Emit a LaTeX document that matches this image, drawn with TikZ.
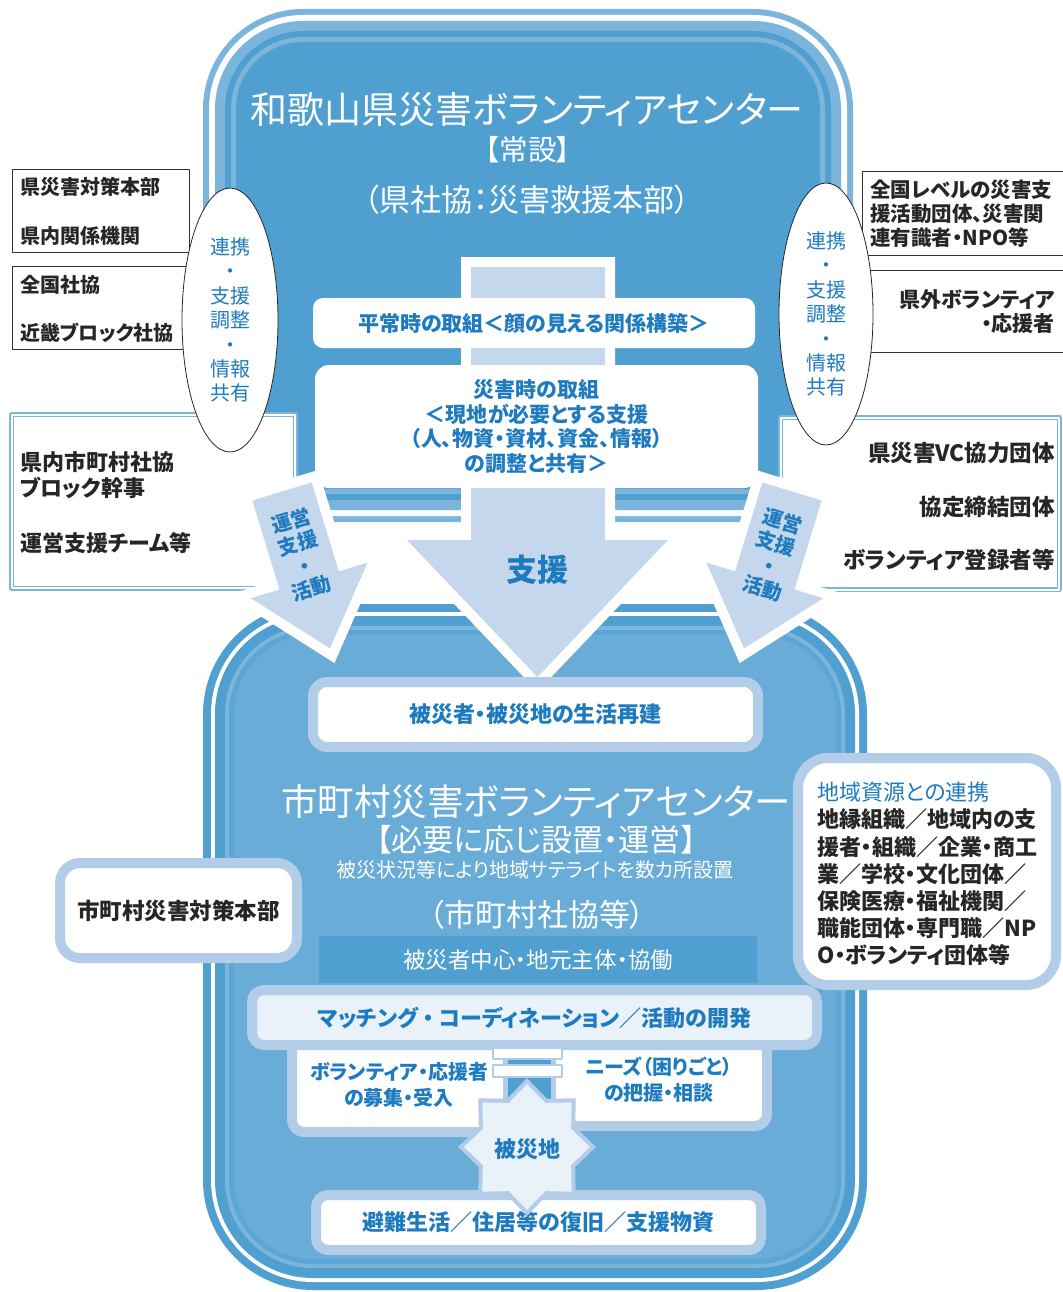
\documentclass[tikz,border=0pt]{standalone}
\usepackage{fontspec}
\setmainfont{Noto Sans CJK JP}[RawFeature={+palt}]
\usetikzlibrary{shapes.geometric}

\definecolor{tblue}{HTML}{1F7BC0}
\definecolor{bandmid}{HTML}{4FA0D1}
\definecolor{bandlt}{HTML}{7BB5DC}
\definecolor{fillbot}{HTML}{68ACD7}
\definecolor{midfill}{HTML}{5CA6D6}
\definecolor{arrowpale}{HTML}{C4D7EC}
\definecolor{paleedge}{HTML}{B3CDE8}
\definecolor{palefill}{HTML}{E9F1F9}

\tikzset{
  linebox/.style={draw=black!80, line width=1, fill=white, inner sep=0},
  dblbox/.style={draw=bandlt, double=white, double distance=2, line width=1.5, fill=white, inner sep=0},
  palebox/.style={draw=paleedge, line width=10, fill=white, rounded corners=12, inner sep=0},
  wayarrow/.style={fill=arrowpale, preaction={draw=white, line width=20, line join=miter}},
  blk/.style={text=black!85, inner sep=0, font=\bfseries\fontsize{20}{24}\selectfont},
  blu/.style={text=tblue, inner sep=0, font=\bfseries\fontsize{21}{24.5}\selectfont},
  arrlbl/.style={text=tblue, inner sep=0, align=center, font=\bfseries\fontsize{20}{23.5}\selectfont},
  ttl/.style={text=white, inner sep=0}
}

\begin{document}
\begin{tikzpicture}[line cap=round,line join=round,x=1pt,y=-1pt]
  \useasboundingbox (0,0) rectangle (1062,1292);
  % prefecture centre frame
  \foreach \ins/\col in {0/bandlt,6/white,12/bandlt,22/bandmid,28/bandlt,33/bandmid}
    \fill[\col, rounded corners={(100-\ins)*1pt}] (203+\ins,9+\ins) rectangle (853-\ins,522-\ins);
  % municipal centre frame
  \foreach \ins/\col in {0/bandmid,8/white,12/bandmid,22/bandlt,26/midfill,31/fillbot}
    \fill[\col, rounded corners={(110-\ins)*1pt}] (203+\ins,604+\ins) rectangle (867-\ins,1290-\ins);

  \node[ttl, font=\fontsize{37}{40}\selectfont] (prefvc) at (527,110) {和歌山県災害ボランティアセンター};
  \node[ttl, font=\fontsize{28.5}{30}\selectfont] (prefvcsub) at (528,150) {【常設】};
  \node[ttl, font=\fontsize{31}{33}\selectfont] (prefsw) at (527,200) {（県社協：災害救援本部）};

  % big support arrow
  \path[wayarrow] (471,267) -- (605,267) -- (605,540) -- (668,540) -- (537.5,677) -- (407,540) -- (471,540) -- cycle;
  \node[text=tblue, font=\bfseries\fontsize{31}{31}\selectfont] (supportlbl) at (537,570) {支援};

  \node[fill=white, rounded corners=10, minimum width=442, minimum height=50, blu] (normal) at (534,323) {平常時の取組＜顔の見える関係構築＞};
  \node[fill=white, rounded corners=14, minimum width=443, minimum height=123, blu, align=center] (disaster) at (536.5,426.5)
    {災害時の取組\\＜現地が必要とする支援\\（人、物資・資材、資金、情報）\\の調整と共有＞};

  % left partners
  \node[linebox, minimum width=177, minimum height=82] (prefhq) at (100.5,211) {};
  \node[blk, anchor=west] (prefhqtxt) at (20,187) {県災害対策本部};
  \node[blk, anchor=west] (prefagency) at (20,236) {県内関係機関};
  \node[linebox, minimum width=183, minimum height=83] (natbox) at (103.5,307.5) {};
  \node[blk, anchor=west] (natsw) at (20,285) {全国社協};
  \node[blk, anchor=west] (kinki) at (20,333) {近畿ブロック社協};
  \node[dblbox, minimum width=283.5, minimum height=173.5] (munibox) at (153.25,501.25) {};
  \node[blk, anchor=west, align=left, font=\bfseries\fontsize{22}{26}\selectfont] (munisw) at (20,475) {県内市町村社協\\ブロック幹事};
  \node[blk, anchor=west, font=\bfseries\fontsize{22}{26}\selectfont] (opteam) at (20,543) {運営支援チーム等};

  % right partners
  \node[linebox, minimum width=208, minimum height=83] (natlvl) at (966,213.5) {};
  \node[blk, anchor=west, align=left, font=\bfseries\fontsize{20.5}{24}\selectfont] (natlvltxt) at (870,214)
    {全国レベルの災害支\\援活動団体、災害関\\連有識者・NPO等};
  \node[linebox, minimum width=208, minimum height=82] (outbox) at (966,311) {};
  \node[blk, anchor=east, align=right, font=\bfseries\fontsize{21}{24}\selectfont] (outvol) at (1055,312) {県外ボランティア\\・応援者};
  \node[dblbox, minimum width=278.5, minimum height=172] (vcbox) at (919.75,503.5) {};
  \node[blk, anchor=east, font=\bfseries\fontsize{22.5}{26}\selectfont] (vcpartner) at (1055,453) {県災害VC協力団体};
  \node[blk, anchor=east, font=\bfseries\fontsize{22.5}{26}\selectfont] (agreement) at (1055,507) {協定締結団体};
  \node[blk, anchor=east, font=\bfseries\fontsize{22.5}{26}\selectfont] (registered) at (1055,560) {ボランティア登録者等};

  % cooperation ellipses
  \node[ellipse, draw=black!85, line width=0.8, fill=white, minimum width=96, minimum height=264, inner sep=0,
        text=tblue, align=center, font=\fontsize{20}{24.4}\selectfont] (lcoop) at (230,320) {連携\\・\\支援\\調整\\・\\情報\\共有};
  \node[ellipse, draw=black!85, line width=0.8, fill=white, minimum width=94, minimum height=262, inner sep=0,
        text=tblue, align=center, font=\fontsize{20}{24.4}\selectfont] (rcoop) at (826,314) {連携\\・\\支援\\調整\\・\\情報\\共有};

  % side arrows
  \begin{scope}[shift={(282,491.5)}, rotate=17]
    \path[wayarrow] (-31,0) -- (31,0) -- (31,93) -- (61,93) -- (0,164) -- (-61,93) -- (-31,93) -- cycle;
    \node[arrlbl, rotate=17] (lops) at (0,66) {運営\\支援\\・\\活動};
  \end{scope}
  \begin{scope}[shift={(792,491.5)}, rotate=-17]
    \path[wayarrow] (-31,0) -- (31,0) -- (31,93) -- (61,93) -- (0,164) -- (-61,93) -- (-31,93) -- cycle;
    \node[arrlbl, rotate=-17] (rops) at (0,66) {運営\\支援\\・\\活動};
  \end{scope}

  % municipal centre contents
  \node[palebox, rounded corners=14, minimum width=445, minimum height=65, blu, font=\bfseries\fontsize{22}{24}\selectfont] (rebuild) at (535.5,714.5) {被災者・被災地の生活再建};
  \node[ttl, font=\fontsize{36.5}{38}\selectfont] (munivc) at (536,802) {市町村災害ボランティアセンター};
  \node[ttl, font=\fontsize{31}{32}\selectfont] (munivcsub) at (536,840) {【必要に応じ設置・運営】};
  \node[ttl, font=\fontsize{20}{22}\selectfont] (satellite) at (535,870) {被災状況等により地域サテライトを数カ所設置};
  \node[ttl, font=\fontsize{31}{32}\selectfont] (munisweq) at (537,915) {（市町村社協等）};
  \node[fill=bandmid, minimum width=438, minimum height=47, ttl, font=\fontsize{22.5}{24}\selectfont] (principle) at (538,959.5) {被災者中心・地元主体・協働};

  \node[palebox, minimum width=216, minimum height=92] (recruit) at (400,1086) {};
  \node[palebox, minimum width=217, minimum height=86] (needs) at (658.5,1083) {};
  \node[blu, align=center, font=\bfseries\fontsize{20}{26}\selectfont] (recruittxt) at (399,1085) {ボランティア・応援者\\の募集・受入};
  \node[blu, align=center, font=\bfseries\fontsize{20}{26}\selectfont] (needstxt) at (659,1080) {ニーズ（困りごと）\\の把握・相談};
  \node[fill=bandmid, draw=paleedge, line width=5, minimum width=48, minimum height=60, inner sep=0] (pillar) at (529.5,1080) {};
  \node[palebox, fill=palefill, line width=10, rounded corners=12, minimum width=565, minimum height=55, blu, font=\bfseries\fontsize{22}{24}\selectfont]
    (matching) at (534.5,1017.5) {マッチング\hspace{5pt}・\hspace{5pt}コーディネーション／活動の開発};
  \node[fill=white, draw=paleedge, line width=2, minimum width=69, minimum height=11, inner sep=0] (plateup) at (527.5,1053.5) {};
  \node[fill=white, draw=paleedge, line width=2, minimum width=69, minimum height=12, inner sep=0] (platelow) at (527.5,1071) {};

  \node[palebox, minimum width=445, minimum height=55, blu, font=\bfseries\fontsize{22}{24}\selectfont] (shelter) at (538.5,1222.5) {避難生活／住居等の復旧／支援物資};
  % disaster site star
  \draw[shift={(527,1147)}, fill=palefill, draw=paleedge, line width=4, line join=miter]
    (90:66) \foreach \a in {90,135,...,405} { -- (\a+22.5:50) -- (\a+45:66) } -- cycle;
  \node[blu, font=\bfseries\fontsize{22}{24}\selectfont] (site) at (527,1149) {被災地};

  % municipal side boxes
  \node[palebox, rounded corners=20, minimum width=237, minimum height=95, blk, font=\bfseries\fontsize{22.5}{24}\selectfont] (munihq) at (178.5,910.5) {市町村災害対策本部};
  \node[palebox, rounded corners=30, minimum width=258, minimum height=227] (resource) at (927,871.5) {};
  \node[blk, anchor=west, align=left, font=\bfseries\fontsize{22}{27.2}\selectfont] (resourcetxt) at (817,874)
    {{\mdseries\color{tblue}地域資源との連携}\\地縁組織／地域内の支\\援者・組織／企業・商工\\業／学校・文化団体／\\保険医療・福祉機関／\\職能団体・専門職／NP\\O・ボランティ団体等};
\end{tikzpicture}
\end{document}
